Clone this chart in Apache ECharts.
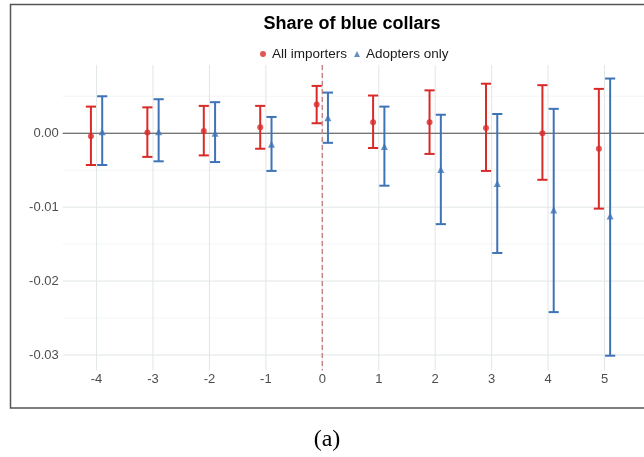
<!DOCTYPE html>
<html>
<head>
<meta charset="utf-8">
<script src="https://cdn.jsdelivr.net/npm/echarts@6/dist/echarts.min.js"></script>
<style>
html,body{margin:0;padding:0;background:#fff;}
#c{width:644px;height:457px;}
</style>
</head>
<body>
<div id="c"></div>
<script>
const periods = [-4, -3, -2, -1, 0, 1, 2, 3, 4, 5];
const allEst = [-0.0004, 0.0001, 0.0003, 0.0008, 0.0039, 0.0015, 0.0015, 0.0007, 0.0000, -0.0021];
const allLo  = [-0.0043, -0.0032, -0.0030, -0.0021, 0.00135, -0.0020, -0.0028, -0.0051, -0.0063, -0.0102];
const allHi  = [0.0036, 0.0035, 0.0037, 0.0037, 0.0064, 0.0051, 0.0058, 0.0067, 0.0065, 0.0060];
const adoEst = [0.0002, 0.0002, 0.0000, -0.0015, 0.0021, -0.0018, -0.0049, -0.0068, -0.0104, -0.0112];
const adoLo  = [-0.0043, -0.0038, -0.0039, -0.0051, -0.0013, -0.0071, -0.0123, -0.0162, -0.0242, -0.0301];
const adoHi  = [0.0050, 0.0046, 0.0042, 0.0022, 0.0055, 0.0036, 0.0025, 0.0026, 0.0033, 0.0074];
const yMajor = [-0.03, -0.02, -0.01, 0];
const yMinor = [-0.025, -0.015, -0.005, 0.005];
const xTicks = [-4, -3, -2, -1, 0, 1, 2, 3, 4, 5];

const RED = '#d92a2a', BLUE = '#3f73b8';
const DODGE = 0.1, CAP = 0.09;
const FONT = 'Liberation Sans';

const chart = echarts.init(document.getElementById('c'), null, {renderer: 'canvas'});

function hGrid(color, width) {
  return function (params, api) {
    const cs = params.coordSys;
    const y = api.coord([0, api.value(1)])[1];
    return {type: 'line', shape: {x1: cs.x, y1: y, x2: cs.x + cs.width, y2: y},
      style: {stroke: color, lineWidth: width}, silent: true};
  };
}
function vGrid(color, width, dash) {
  return function (params, api) {
    const cs = params.coordSys;
    const x = api.coord([api.value(0), 0])[0];
    return {type: 'line', shape: {x1: x, y1: cs.y, x2: x, y2: cs.y + cs.height},
      style: {stroke: color, lineWidth: width, lineDash: dash || null}, silent: true};
  };
}
function errRender(color) {
  return function (params, api) {
    const x = api.value(0), lo = api.value(1), hi = api.value(2);
    const t = api.coord([x, hi]), b = api.coord([x, lo]);
    const l = api.coord([x - CAP, hi])[0], r = api.coord([x + CAP, hi])[0];
    const st = {stroke: color, lineWidth: 2};
    return {type: 'group', children: [
      {type: 'line', shape: {x1: t[0], y1: t[1], x2: b[0], y2: b[1]}, style: st},
      {type: 'line', shape: {x1: l, y1: t[1], x2: r, y2: t[1]}, style: st},
      {type: 'line', shape: {x1: l, y1: b[1], x2: r, y2: b[1]}, style: st}
    ]};
  };
}

const option = {
  animation: false,
  backgroundColor: '#fff',
  textStyle: {fontFamily: FONT},
  grid: {left: 62.7, top: 65, width: 583.3, height: 305.5, containLabel: false},
  xAxis: {
    type: 'value', min: -4.6, max: 5.7,
    axisLine: {show: false}, axisTick: {show: false, customValues: xTicks},
    splitLine: {show: false},
    axisLabel: {customValues: xTicks, color: '#4d4d4d', fontSize: 13, margin: 2, fontFamily: FONT}
  },
  yAxis: {
    type: 'value', min: -0.0321, max: 0.00923,
    axisLine: {show: false}, axisTick: {show: false, customValues: yMajor},
    splitLine: {show: false},
    axisLabel: {customValues: yMajor, color: '#4d4d4d', fontSize: 13, margin: 4, fontFamily: FONT,
      formatter: v => v.toFixed(2)}
  },
  legend: {
    left: 255, top: 42, itemWidth: 6, itemHeight: 6, itemGap: 7,
    textStyle: {fontSize: 13.5, color: '#1a1a1a', fontFamily: FONT, padding: [0, 0, 0, 1]},
    data: [{name: 'All importers', icon: 'circle'}, {name: 'Adopters only', icon: 'triangle'}]
  },
  graphic: [
    {type: 'text', x: 352, y: 24, z: 10,
      style: {text: 'Share of blue collars', font: 'bold 18px "Liberation Sans"', fill: '#000',
        textAlign: 'center', textVerticalAlign: 'middle'}},
    {type: 'text', x: 327, y: 440, z: 10,
      style: {text: '(a)', font: '24px "Liberation Serif"', fill: '#000',
        textAlign: 'center', textVerticalAlign: 'middle'}},
    {type: 'rect', z: 10, shape: {x: 10.5, y: 4.5, width: 645, height: 403.5},
      style: {fill: 'none', stroke: '#555', lineWidth: 1.5}, silent: true}
  ],
  series: [
    {type: 'custom', name: 'gridMinor', z: 0, renderItem: hGrid('#f1f3f3', 0.8),
      data: yMinor.map(v => [0, v]), encode: {x: 0, y: 1}, silent: true},
    {type: 'custom', name: 'gridMajor', z: 0, renderItem: hGrid('#e1e6e6', 1),
      data: yMajor.map(v => [0, v]), encode: {x: 0, y: 1}, silent: true},
    {type: 'custom', name: 'gridV', z: 0, renderItem: vGrid('#e1e6e6', 1),
      data: xTicks.map(v => [v, 0]), encode: {x: 0, y: 1}, silent: true},
    {type: 'custom', name: 'zeroLine', z: 1, renderItem: hGrid('#4d4d4d', 1.2),
      data: [[0, 0]], encode: {x: 0, y: 1}, silent: true},
    {type: 'custom', name: 'eventLine', z: 1, renderItem: vGrid('#c98888', 1.5, [5, 3]),
      data: [[0, 0]], encode: {x: 0, y: 1}, silent: true},
    {type: 'custom', name: 'errAll', z: 2, renderItem: errRender(RED),
      data: periods.map((p, i) => [p - DODGE, allLo[i], allHi[i]]), encode: {x: 0, y: [1, 2]}},
    {type: 'custom', name: 'errAdo', z: 2, renderItem: errRender(BLUE),
      data: periods.map((p, i) => [p + DODGE, adoLo[i], adoHi[i]]), encode: {x: 0, y: [1, 2]}},
    {type: 'scatter', name: 'All importers', z: 3, symbol: 'circle', symbolSize: 6,
      itemStyle: {color: RED}, data: periods.map((p, i) => [p - DODGE, allEst[i]])},
    {type: 'scatter', name: 'Adopters only', z: 3, symbol: 'triangle', symbolSize: 7,
      itemStyle: {color: BLUE}, data: periods.map((p, i) => [p + DODGE, adoEst[i]])}
  ]
};
chart.setOption(option);
</script>
</body>
</html>
